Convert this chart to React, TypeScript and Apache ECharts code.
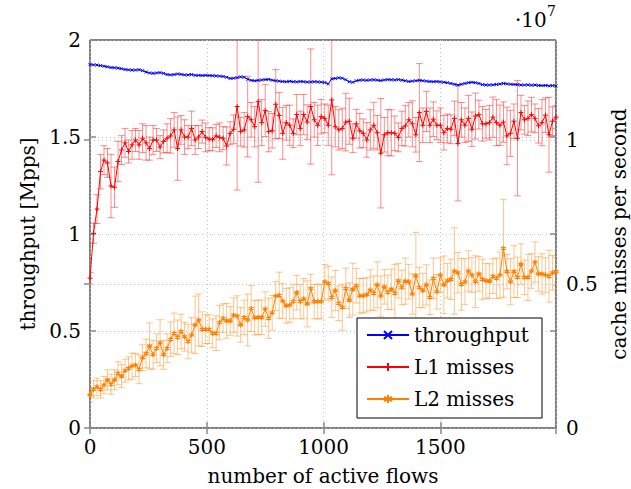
import React, { useEffect, useRef } from "react";
import * as echarts from "echarts";

const flows = [0,15,30,45,60,75,90,105,120,135,150,165,180,195,210,225,240,255,270,285,300,315,330,345,360,375,390,405,420,435,450,465,480,495,510,525,540,555,570,585,600,615,630,645,660,675,690,705,720,735,750,765,780,795,810,825,840,855,870,885,900,915,930,945,960,975,990,1005,1020,1035,1050,1065,1080,1095,1110,1125,1140,1155,1170,1185,1200,1215,1230,1245,1260,1275,1290,1305,1320,1335,1350,1365,1380,1395,1410,1425,1440,1455,1470,1485,1500,1515,1530,1545,1560,1575,1590,1605,1620,1635,1650,1665,1680,1695,1710,1725,1740,1755,1770,1785,1800,1815,1830,1845,1860,1875,1890,1905,1920,1935,1950,1965,1980,1995];

// throughput [Mpps]
const throughput = [1.873,1.872,1.871,1.868,1.865,1.862,1.858,1.857,1.855,1.852,1.848,1.846,1.845,1.845,1.847,1.842,1.835,1.830,1.828,1.830,1.832,1.828,1.822,1.820,1.822,1.825,1.823,1.820,1.820,1.822,1.818,1.818,1.817,1.818,1.817,1.816,1.815,1.814,1.812,1.808,1.802,1.803,1.806,1.810,1.808,1.798,1.792,1.790,1.792,1.794,1.796,1.797,1.793,1.790,1.788,1.786,1.785,1.787,1.785,1.784,1.786,1.785,1.783,1.784,1.785,1.784,1.783,1.781,1.774,1.800,1.802,1.805,1.803,1.795,1.785,1.782,1.790,1.793,1.794,1.792,1.794,1.795,1.793,1.791,1.794,1.796,1.795,1.794,1.796,1.793,1.790,1.786,1.788,1.790,1.792,1.790,1.788,1.786,1.785,1.786,1.784,1.782,1.780,1.776,1.772,1.768,1.772,1.776,1.780,1.782,1.780,1.776,1.770,1.768,1.768,1.769,1.771,1.773,1.776,1.774,1.772,1.771,1.770,1.768,1.768,1.769,1.767,1.768,1.766,1.765,1.766,1.764,1.765,1.763];

// L1 misses, in units of 10^7 per second
const l1Misses = [0.52,0.676,0.76,0.89,0.93,0.92,0.84,0.836,0.925,0.965,0.99,0.96,0.983,1.0,0.983,1.006,0.99,0.97,1.0,1.0,0.975,0.995,1.006,1.014,1.035,0.97,1.035,1.01,1.01,1.04,1.0,1.01,1.029,1.009,1.003,1.002,1.014,1.009,1.006,0.979,1.023,1.037,1.116,1.029,1.035,1.081,1.07,1.046,1.133,1.06,1.102,1.029,1.032,1.124,1.085,1.023,1.06,1.051,1.023,1.088,1.04,1.088,1.062,1.116,1.07,1.051,1.081,1.075,1.051,1.139,1.046,1.035,1.04,1.062,1.065,1.006,1.056,1.032,1.023,1.0,1.035,1.051,1.025,0.954,1.018,1.025,1.025,1.023,1.009,1.04,1.049,1.07,1.056,1.018,1.095,1.051,1.099,1.051,1.072,1.051,1.051,1.025,1.04,1.037,1.075,0.988,1.07,1.051,1.075,1.037,1.083,1.088,1.056,1.056,1.06,1.079,1.06,1.051,1.062,1.014,1.023,1.065,1.006,1.095,1.07,1.075,1.088,1.075,1.049,1.06,1.086,1.018,1.065,1.079];
const l1Err = [0.02,0.035,0.05,0.06,0.05,0.05,0.11,0.07,0.07,0.05,0.05,0.04,0.05,0.04,0.05,0.05,0.06,0.04,0.05,0.04,0.04,0.04,0.05,0.06,0.06,0.11,0.05,0.06,0.04,0.06,0.05,0.04,0.04,0.05,0.04,0.04,0.04,0.05,0.04,0.066,0.04,0.05,0.29,0.05,0.06,0.14,0.06,0.07,0.28,0.08,0.09,0.07,0.06,0.12,0.08,0.09,0.06,0.07,0.05,0.07,0.06,0.07,0.06,0.2,0.06,0.07,0.06,0.05,0.07,0.26,0.07,0.07,0.07,0.1,0.08,0.05,0.05,0.06,0.05,0.06,0.07,0.08,0.06,0.19,0.06,0.08,0.08,0.06,0.05,0.06,0.07,0.06,0.08,0.06,0.17,0.06,0.07,0.06,0.06,0.05,0.06,0.06,0.05,0.05,0.06,0.2,0.06,0.06,0.08,0.06,0.08,0.05,0.06,0.05,0.06,0.07,0.08,0.07,0.07,0.1,0.08,0.06,0.2,0.06,0.05,0.06,0.06,0.05,0.06,0.08,0.06,0.13,0.05,0.04];

// L2 misses, in units of 10^7 per second
const l2Misses = [0.115,0.134,0.143,0.134,0.149,0.167,0.152,0.167,0.19,0.18,0.199,0.207,0.215,0.219,0.204,0.244,0.259,0.285,0.254,0.277,0.296,0.254,0.277,0.308,0.329,0.315,0.335,0.317,0.3,0.323,0.358,0.375,0.343,0.343,0.343,0.329,0.329,0.366,0.381,0.372,0.372,0.392,0.389,0.358,0.384,0.375,0.415,0.383,0.384,0.384,0.413,0.381,0.4,0.458,0.461,0.441,0.424,0.427,0.439,0.47,0.439,0.449,0.431,0.484,0.439,0.439,0.439,0.508,0.502,0.454,0.477,0.433,0.419,0.485,0.444,0.482,0.494,0.459,0.459,0.463,0.479,0.468,0.497,0.458,0.49,0.471,0.482,0.468,0.511,0.488,0.51,0.508,0.465,0.529,0.488,0.477,0.497,0.454,0.52,0.473,0.531,0.497,0.511,0.516,0.545,0.539,0.499,0.508,0.545,0.531,0.508,0.535,0.516,0.511,0.51,0.527,0.52,0.531,0.624,0.543,0.508,0.543,0.523,0.569,0.523,0.523,0.545,0.576,0.535,0.535,0.531,0.527,0.539,0.543];
const l2Err = [0.025,0.03,0.03,0.03,0.03,0.035,0.035,0.035,0.04,0.04,0.04,0.04,0.045,0.04,0.05,0.045,0.05,0.08,0.05,0.05,0.08,0.05,0.05,0.06,0.07,0.06,0.06,0.05,0.06,0.06,0.1,0.09,0.06,0.05,0.05,0.05,0.06,0.06,0.05,0.06,0.05,0.06,0.07,0.06,0.06,0.09,0.08,0.06,0.06,0.06,0.06,0.07,0.06,0.05,0.08,0.06,0.06,0.06,0.06,0.06,0.06,0.07,0.08,0.05,0.06,0.06,0.06,0.06,0.06,0.07,0.07,0.06,0.08,0.07,0.06,0.09,0.06,0.06,0.06,0.06,0.07,0.06,0.08,0.07,0.06,0.06,0.07,0.1,0.06,0.06,0.08,0.06,0.07,0.15,0.07,0.06,0.07,0.06,0.07,0.06,0.06,0.1,0.06,0.07,0.15,0.07,0.09,0.08,0.07,0.06,0.09,0.06,0.07,0.06,0.06,0.06,0.07,0.08,0.17,0.06,0.08,0.09,0.07,0.07,0.06,0.08,0.06,0.07,0.06,0.07,0.06,0.09,0.06,0.05];

const leftTicks = ["0", "0.5", "1", "1.5", "2"];
const rightTicks = ["0", "0.5", "1"];
const xTicks = ["0", "500", "1000", "1500"];

const FONT = "DejaVu Serif";
const FONT_SIZE = 20;
const BLUE = "#0000ff";
const RED = "#ff0000";
const ORANGE = "#ff8000";

const SYM_X = "path://M0,0L10,10M10,0L0,10";
const SYM_PLUS = "path://M5,0L5,10M0,5L10,5";
const SYM_STAR = "path://M5,0L5,10M0.7,2.5L9.3,7.5M0.7,7.5L9.3,2.5";

function errorRenderer(color: string) {
  return (params: any, api: any) => {
    const x = api.value(0);
    const lo = api.value(1);
    const hi = api.value(2);
    const p1 = api.coord([x, lo]);
    const p2 = api.coord([x, hi]);
    const w = 3.5;
    const style = { stroke: color, lineWidth: 1, fill: "none" };
    return {
      type: "group",
      children: [
        { type: "line", shape: { x1: p1[0], y1: p1[1], x2: p2[0], y2: p2[1] }, style },
        { type: "line", shape: { x1: p1[0] - w, y1: p1[1], x2: p1[0] + w, y2: p1[1] }, style },
        { type: "line", shape: { x1: p2[0] - w, y1: p2[1], x2: p2[0] + w, y2: p2[1] }, style },
      ],
    };
  };
}

export default function App() {
  const ref = useRef<HTMLDivElement>(null);
  useEffect(() => {
    if (!ref.current) return;
    const chart = echarts.init(ref.current, null, { renderer: "svg" });
    const tpData = flows.map((f, i) => [f, throughput[i]]);
    const l1Data = flows.map((f, i) => [f, l1Misses[i]]);
    const l2Data = flows.map((f, i) => [f, l2Misses[i]]);
    const l1ErrData = flows.map((f, i) => [f, l1Misses[i] - l1Err[i], l1Misses[i] + l1Err[i]]);
    const l2ErrData = flows.map((f, i) => [f, l2Misses[i] - l2Err[i], l2Misses[i] + l2Err[i]]);

    const tickStyle = { show: true, inside: true, length: 6, lineStyle: { color: "#888", width: 1.5 } };
    const gridLine = { show: true, lineStyle: { color: "#c4c4c4", type: [1, 3] as any, width: 1 } };
    const labelStyle = { fontFamily: FONT, fontSize: FONT_SIZE, color: "#000" };

    chart.setOption({
      animation: false,
      textStyle: { fontFamily: FONT },
      grid: {
        left: 90, top: 40, width: 466, height: 388, show: true, borderColor: "#000", borderWidth: 1,
        backgroundColor: "transparent", containLabel: false, outerBoundsMode: "none",
      },
      xAxis: [
        {
          type: "value", min: 0, max: 1995, interval: 500, position: "bottom",
          axisLine: { show: false }, axisTick: tickStyle, splitLine: gridLine,
          axisLabel: { ...labelStyle, margin: 9, showMaxLabel: false, formatter: (v: number) => xTicks[Math.round(v / 500)] ?? "" },
          name: "number of active flows", nameLocation: "middle", nameGap: 38,
          nameTextStyle: labelStyle,
        },
        {
          type: "value", min: 0, max: 1995, interval: 500, position: "top",
          axisLine: { show: false }, axisTick: tickStyle, splitLine: { show: false }, axisLabel: { show: false },
        },
      ],
      yAxis: [
        {
          type: "value", min: 0, max: 2, interval: 0.5, position: "left",
          axisLine: { show: false }, axisTick: tickStyle, splitLine: gridLine,
          axisLabel: { ...labelStyle, margin: 9, formatter: (v: number) => leftTicks[Math.round(v / 0.5)] ?? "" },
          name: "throughput [Mpps]", nameLocation: "middle", nameGap: 52, nameRotate: 90,
          nameTextStyle: labelStyle,
        },
        {
          type: "value", min: 0, max: 1.347, interval: 0.5, position: "right",
          axisLine: { show: false }, axisTick: tickStyle, splitLine: gridLine,
          axisLabel: { ...labelStyle, margin: 10, showMaxLabel: false, formatter: (v: number) => (Math.abs(v / 0.5 - Math.round(v / 0.5)) < 1e-6 ? rightTicks[Math.round(v / 0.5)] ?? "" : "") },
          name: "cache misses per second", nameLocation: "middle", nameGap: 44, nameRotate: 90,
          nameTextStyle: labelStyle,
        },
        {
          type: "value", min: 0, max: 2, interval: 0.5, position: "right",
          axisLine: { show: false }, axisTick: tickStyle, splitLine: { show: false }, axisLabel: { show: false },
        },
      ],
      legend: {
        data: ["throughput", "L1 misses", "L2 misses"],
        orient: "vertical", left: 362, top: 323, itemWidth: 42, itemHeight: 10, itemGap: 8,
        padding: [0, 0, 0, 4],
        textStyle: { fontFamily: FONT, fontSize: FONT_SIZE, color: "#000", lineHeight: 24 },
        selectedMode: false, z: 10,
      },
      graphic: [
        { type: "rect", z: 5, shape: { x: 357, y: 318, width: 185, height: 100 }, style: { fill: "#fff", stroke: "#000", lineWidth: 1 } },
        { type: "text", x: 515, y: 10, style: { text: "·10", fontFamily: FONT, fontSize: FONT_SIZE, fill: "#000" } },
        { type: "text", x: 547, y: 4, style: { text: "7", fontFamily: FONT, fontSize: 14, fill: "#000" } },
      ],
      series: [
        {
          name: "throughput", type: "line", xAxisIndex: 0, yAxisIndex: 0, data: tpData,
          symbol: SYM_X, symbolSize: 3, showSymbol: true,
          lineStyle: { color: BLUE, width: 1 }, itemStyle: { color: BLUE, borderColor: BLUE, borderWidth: 1 },
          emphasis: { disabled: true }, silent: true, z: 2,
        },
        {
          name: "L1 err", type: "custom", xAxisIndex: 0, yAxisIndex: 1, data: l1ErrData,
          renderItem: errorRenderer("rgba(255,0,0,0.45)"), clip: true, silent: true, z: 2,
        },
        {
          name: "L1 misses", type: "line", xAxisIndex: 0, yAxisIndex: 1, data: l1Data,
          symbol: SYM_PLUS, symbolSize: 5, showSymbol: true,
          lineStyle: { color: RED, width: 1 }, itemStyle: { color: RED, borderColor: RED, borderWidth: 1 },
          emphasis: { disabled: true }, silent: true, z: 2,
        },
        {
          name: "L2 err", type: "custom", xAxisIndex: 0, yAxisIndex: 1, data: l2ErrData,
          renderItem: errorRenderer("rgba(255,128,0,0.45)"), clip: true, silent: true, z: 2,
        },
        {
          name: "L2 misses", type: "line", xAxisIndex: 0, yAxisIndex: 1, data: l2Data,
          symbol: SYM_STAR, symbolSize: 5, showSymbol: true,
          lineStyle: { color: ORANGE, width: 1 }, itemStyle: { color: ORANGE, borderColor: ORANGE, borderWidth: 1.2 },
          emphasis: { disabled: true }, silent: true, z: 2,
        },
      ],
    });
    return () => chart.dispose();
  }, []);
  return <div ref={ref} style={{ position: "fixed", left: 0, top: 0, width: 631, height: 489, background: "#fff" }} />;
}
